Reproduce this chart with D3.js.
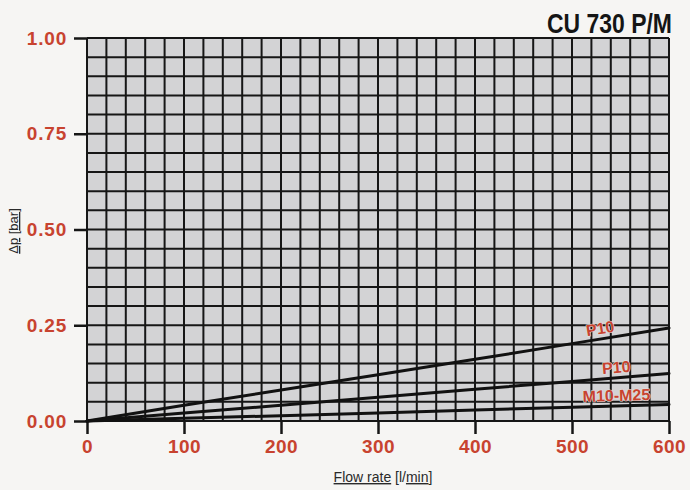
<!DOCTYPE html>
<html>
<head>
<meta charset="utf-8">
<script src="https://cdn.jsdelivr.net/npm/d3@7"></script>
<style>
  html, body { margin: 0; padding: 0; background: #f6f5f3; }
  svg { display: block; }
  text { font-family: "Liberation Sans", Arial, sans-serif; }
</style>
</head>
<body>
<svg id="chart" width="690" height="490"></svg>
<script>
// Flow rate [l/min] sample points
const flow = [0, 100, 200, 300, 400, 500, 600];
// Pressure drop [bar] per element
const seriesNames = ["P10", "P10", "M10-M25"];
const dpTop = [0, 0.041, 0.081, 0.121, 0.161, 0.202, 0.243];
const dpMid = [0, 0.021, 0.041, 0.062, 0.083, 0.103, 0.124];
const dpLow = [0, 0.007, 0.014, 0.021, 0.029, 0.036, 0.043];
const labelFlow = [530, 546, 546];

const xTicks = [0, 100, 200, 300, 400, 500, 600];
const yTicks = [0, 0.25, 0.5, 0.75, 1.0];
const xGrid = d3.range(0, 601, 20);
const yGrid = d3.range(0, 1.0001, 0.05);

const red = "#c8432f";
const ink = "#161616";

const svg = d3.select("#chart");
const x = d3.scaleLinear().domain([0, 600]).range([87, 669]);
const y = d3.scaleLinear().domain([0, 1]).range([421, 38]);

// plot background
svg.append("rect")
  .attr("x", x(0)).attr("y", y(1))
  .attr("width", x(600) - x(0)).attr("height", y(0) - y(1))
  .attr("fill", "#d3d3d5");

// grid
const grid = svg.append("g").attr("stroke", ink).attr("stroke-width", 2);
grid.selectAll("line.v").data(xGrid).join("line")
  .attr("class", "v")
  .attr("x1", d => x(d)).attr("x2", d => x(d))
  .attr("y1", y(0)).attr("y2", y(1));
grid.selectAll("line.h").data(yGrid).join("line")
  .attr("class", "h")
  .attr("y1", d => y(d)).attr("y2", d => y(d))
  .attr("x1", x(0)).attr("x2", x(600));

// axes
const xAxis = d3.axisBottom(x).tickValues(xTicks).tickSize(13).tickSizeOuter(0)
  .tickFormat(d3.format("d")).tickPadding(6);
const gx = svg.append("g").attr("transform", `translate(0,${y(0)})`).call(xAxis);
gx.select(".domain").remove();
gx.selectAll(".tick line").attr("stroke", ink).attr("stroke-width", 2.5);
gx.selectAll(".tick text")
  .attr("fill", red).attr("font-size", 19).attr("font-weight", "bold")
  .attr("letter-spacing", 0.5);

const yAxis = d3.axisLeft(y).tickValues(yTicks).tickSize(13).tickSizeOuter(0)
  .tickFormat(d3.format(".2f")).tickPadding(7);
const gy = svg.append("g").attr("transform", `translate(${x(0)},0)`).call(yAxis);
gy.select(".domain").remove();
gy.selectAll(".tick line").attr("stroke", ink).attr("stroke-width", 2.5);
gy.selectAll(".tick text")
  .attr("fill", red).attr("font-size", 19).attr("font-weight", "bold")
  .attr("letter-spacing", 0.8);

// curves
const series = [dpTop, dpMid, dpLow];
const line = d3.line().x(d => x(d[0])).y(d => y(d[1]));
svg.append("g").selectAll("path").data(series).join("path")
  .attr("d", s => line(flow.map((f, i) => [f, s[i]])))
  .attr("fill", "none").attr("stroke", "#111").attr("stroke-width", 3)
  .attr("stroke-linecap", "round");

// curve labels, placed just above their curve and tilted along it
const interp = (s, f) => {
  const i = Math.min(flow.length - 2, Math.floor(f / 100));
  const t = (f - flow[i]) / (flow[i + 1] - flow[i]);
  return s[i] + t * (s[i + 1] - s[i]);
};
seriesNames.forEach((name, k) => {
  const s = series[k];
  const f = labelFlow[k];
  const px = x(f), py = y(interp(s, f));
  const slope = (y(s[6]) - y(s[0])) / (x(600) - x(0));
  const ang = Math.atan(slope) * 180 / Math.PI;
  svg.append("text")
    .attr("transform", `translate(${px},${py - 5}) rotate(${ang})`)
    .attr("text-anchor", "middle")
    .attr("font-size", 16).attr("font-weight", "bold")
    .attr("fill", red)
    .attr("stroke", "#e6e2e0").attr("stroke-width", 1).attr("paint-order", "stroke")
    .text(name);
});

// title, horizontally condensed
svg.append("text")
  .attr("transform", "translate(672,33) scale(0.82,1)")
  .attr("text-anchor", "end")
  .attr("font-size", 28).attr("font-weight", "bold")
  .attr("fill", "#151515")
  .text("CU 730 P/M");

// x axis title
const xt = svg.append("text")
  .attr("x", 383).attr("y", 482)
  .attr("text-anchor", "middle")
  .attr("font-size", 14).attr("fill", "#2a2a2a");
xt.append("tspan").attr("text-decoration", "underline").text("Flow rate");
xt.append("tspan").text(" [l/");
xt.append("tspan").attr("text-decoration", "underline").text("min");
xt.append("tspan").text("]");

// y axis title
const yt = svg.append("text")
  .attr("transform", "translate(18,231) rotate(-90)")
  .attr("text-anchor", "middle")
  .attr("font-size", 13).attr("fill", "#2a2a2a");
yt.append("tspan").attr("text-decoration", "underline").text("Δp");
yt.append("tspan").text(" [");
yt.append("tspan").attr("text-decoration", "underline").text("bar");
yt.append("tspan").text("]");
</script>
</body>
</html>
